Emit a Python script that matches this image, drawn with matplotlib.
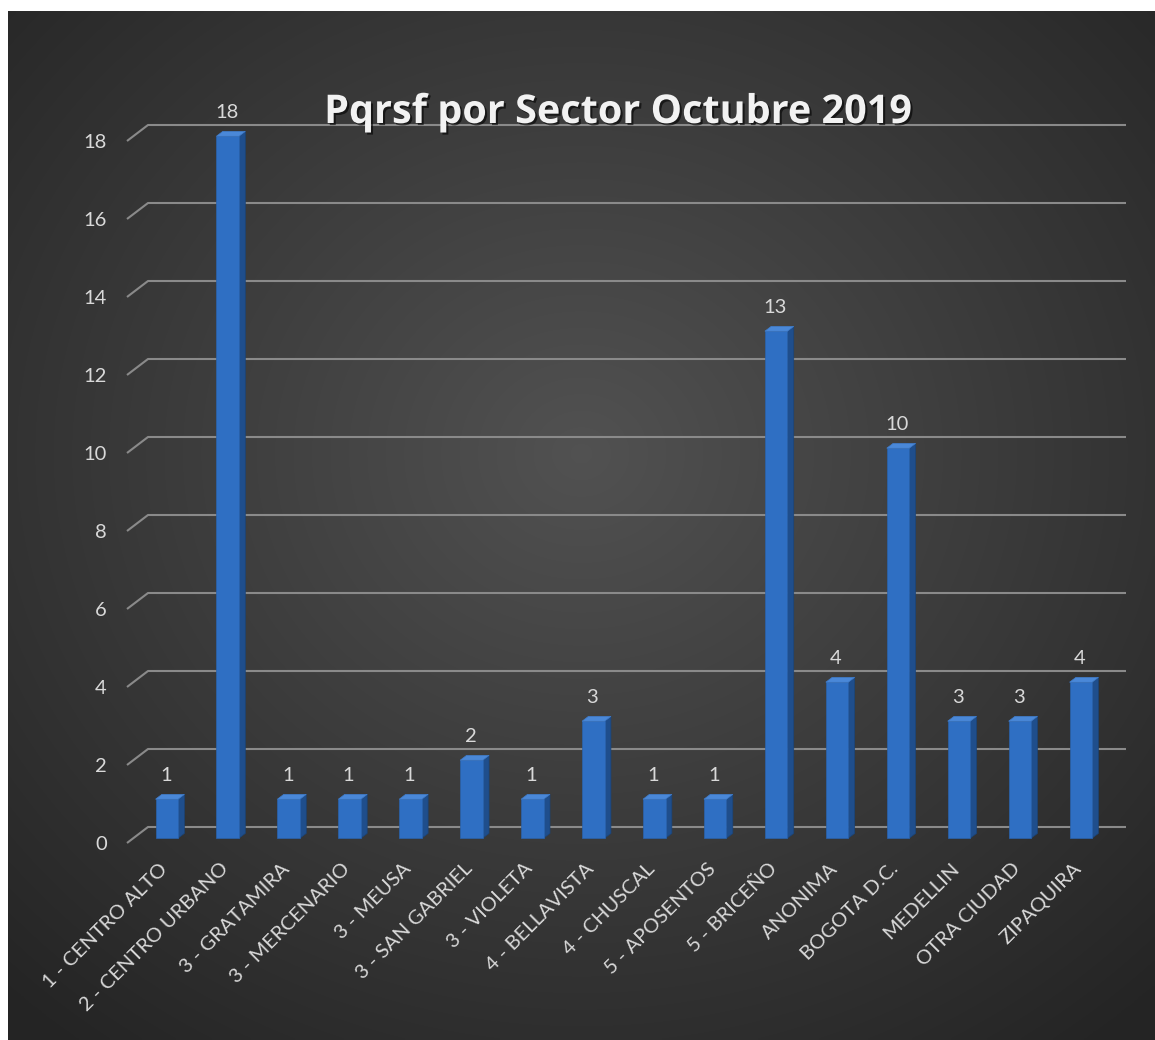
import numpy as np
import matplotlib
matplotlib.use('Agg')
import matplotlib.pyplot as plt
import matplotlib.patheffects as pe
from matplotlib.patches import Polygon
from matplotlib.transforms import Affine2D, IdentityTransform

# data
SECTORES = ['1 - CENTRO ALTO', '2 - CENTRO URBANO', '3 - GRATAMIRA', '3 - MERCENARIO',
            '3 - MEUSA', '3 - SAN GABRIEL', '3 - VIOLETA', '4 - BELLAVISTA', '4 - CHUSCAL',
            '5 - APOSENTOS', '5 - BRICEÑO', 'ANONIMA', 'BOGOTA D.C.', 'MEDELLIN',
            'OTRA CIUDAD', 'ZIPAQUIRA']
PQRSF = [1, 18, 1, 1, 1, 2, 1, 3, 1, 1, 13, 4, 10, 3, 3, 4]
Y_TICKS = [0, 2, 4, 6, 8, 10, 12, 14, 16, 18]
TITLE = 'Pqrsf por Sector Octubre 2019'

W, H, DPI = 1155, 1040, 100
DEPTH = (21.0, 16.0)          # back wall offset, px
BAR_FRONT, BAR_BACK = 0.3, 0.6
BAR_W = 0.37
FONT = 'Lato'
TXT = '#d9d9d9'

fig = plt.figure(figsize=(W / DPI, H / DPI), dpi=DPI, facecolor='white')

# radial gradient background
bg = fig.add_axes([8 / W, 0, 1 - 8 / W, 1 - 11 / H])
bg.axis('off')
yy, xx = np.mgrid[0:1:300j, 0:1:330j]
r = np.clip(np.sqrt(((xx - 0.5) / 0.72) ** 2 + ((yy - 0.43) / 0.72) ** 2), 0, 1)
c0, c1 = np.array([0.32, 0.32, 0.32]), np.array([0.145, 0.145, 0.145])
img = c0[None, None, :] * (1 - r[..., None]) + c1[None, None, :] * r[..., None]
bg.imshow(img, aspect='auto', extent=(0, 1, 0, 1), interpolation='bilinear')
bg.set_xlim(0, 1); bg.set_ylim(0, 1)

ax = fig.add_axes([127 / W, (H - 843) / H, (1105 - 127) / W, (843 - 141) / H])
ax.set_xlim(-0.55, 15.5)
ax.set_ylim(0, 18)
ax.patch.set_alpha(0)
for s in ax.spines.values():
    s.set_visible(False)


def disp(x, y, d):
    X, Y = ax.transData.transform((x, y))
    return X + d * DEPTH[0], Y + d * DEPTH[1]


idt = IdentityTransform()
x_lo, x_hi = ax.get_xlim()
for v in Y_TICKS:
    p0 = disp(x_lo, v, 0); p1 = disp(x_lo, v, 1); p2 = disp(x_hi, v, 1)
    ax.plot([p0[0], p1[0], p2[0]], [p0[1], p1[1], p2[1]], color='#8a8a8a', lw=1.5,
            transform=idt, clip_on=False, zorder=1, solid_capstyle='butt')

for i, v in enumerate(PQRSF):
    x0, x1 = i - BAR_W / 2, i + BAR_W / 2
    front = [disp(x0, 0, BAR_FRONT), disp(x1, 0, BAR_FRONT), disp(x1, v, BAR_FRONT), disp(x0, v, BAR_FRONT)]
    side = [disp(x1, 0, BAR_FRONT), disp(x1, 0, BAR_BACK), disp(x1, v, BAR_BACK), disp(x1, v, BAR_FRONT)]
    top = [disp(x0, v, BAR_FRONT), disp(x1, v, BAR_FRONT), disp(x1, v, BAR_BACK), disp(x0, v, BAR_BACK)]
    ax.add_patch(Polygon(side, closed=True, facecolor='#1f4e8c', edgecolor='#1a4478', lw=0.5,
                         transform=idt, clip_on=False, zorder=3))
    ax.add_patch(Polygon(front, closed=True, facecolor='#2f6fc3', edgecolor='#2a63ad', lw=0.5,
                         transform=idt, clip_on=False, zorder=4))
    ax.add_patch(Polygon(top, closed=True, facecolor='#4a88d8', edgecolor='#3f7ccb', lw=0.5,
                         transform=idt, clip_on=False, zorder=5))
    fx, fy = disp(i, v, BAR_FRONT)
    ax.text(fx - 1, fy + 24, str(v), transform=idt, ha='center', va='center',
            fontsize=14.5, color=TXT, family=FONT, zorder=6)

# x labels
lab_off = ax.transData + Affine2D().translate(-2, -17)
for i, name in enumerate(SECTORES):
    ax.text(i, 0, name, transform=lab_off, rotation=45, rotation_mode='anchor',
            ha='right', va='top', fontsize=14.5, color=TXT, family=FONT)

ax.set_xticks([])
ax.set_yticks(Y_TICKS)
ax.set_yticklabels([str(t) for t in Y_TICKS], fontsize=14.5, color=TXT, family=FONT)
ax.tick_params(axis='y', length=0, pad=14.4)

fig.text(618 / W, 1 - 123 / H, TITLE, ha='center', va='baseline', fontsize=28.5,
         fontweight='bold', color='#f2f2f2', family='Open Sans',
         path_effects=[pe.withSimplePatchShadow(offset=(1.5, -1.5), shadow_rgbFace='black', alpha=0.6)])

fig.savefig('out.png', dpi=DPI, facecolor='white')
